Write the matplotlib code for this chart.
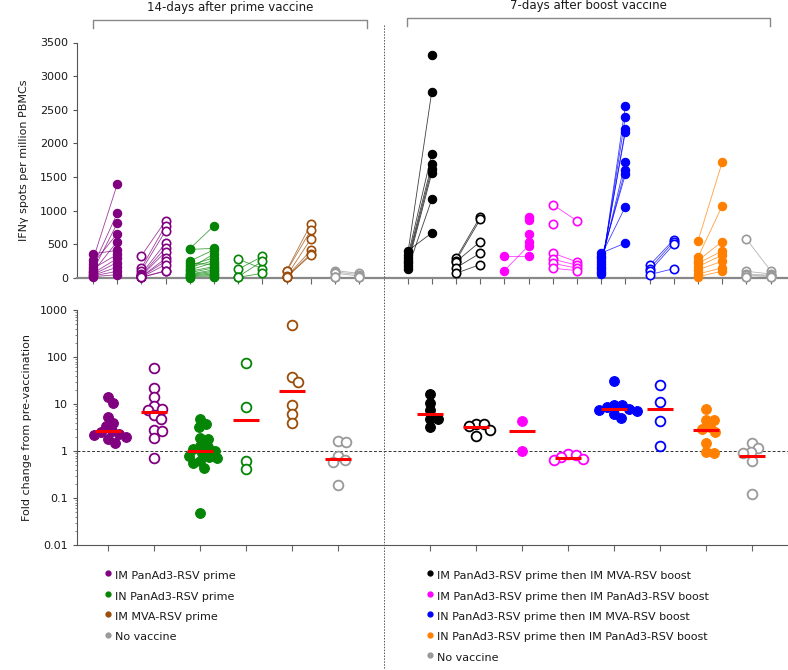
import numpy as np
import matplotlib
matplotlib.use("Agg")
import matplotlib.pyplot as plt
from matplotlib.lines import Line2D

plt.rcParams['font.family'] = ['DejaVu Sans']

nan = np.nan

# ---------------- data: top panel (IFNg spots per million PBMCs) ----------------
im_pan_a_pre = [360, 270, 210, 170, 140, 110, 90, 70, 50, 40, 30, 20]
im_pan_a_post = [410, 1390, 660, 960, 350, 810, 540, 290, 230, 160, 100, 50]
im_pan_b_pre = [330, 150, 110, 60, 40, 30, 20, 20, 10, 10, 10]
im_pan_b_post = [850, 780, 700, 520, 450, 390, 290, 250, 200, 110, 100]
in_pan_a_pre = [435, 425, 250, 220, 190, 160, 140, 120, 100, 80, 60, 50, 40, 30, 20, 10, 5]
in_pan_a_post = [775, 440, 420, 200, 300, 260, 360, 230, 170, 150, 120, 100, 80, 60, 40, 20, 10]
in_pan_b_pre = [280, 130, 20, 10]
in_pan_b_post = [140, 320, 250, 70]
im_mva_pre = [110, 100, 30, 20, 10, 10]
im_mva_post = [800, 710, 580, 410, 360, 340]
novac_l_pre = [110, 90, 70, 20, 10, 10]
novac_l_post = [70, 50, 30, 20, 10, 10]

im_pan_mva_a_pre = [400, 340, 300, 260, 220, 180, 130, nan]
im_pan_mva_a_post = [670, 2770, 1850, 1690, 1620, 1560, 1170, 3320]
im_pan_mva_b_pre = [290, 260, 240, 150, 70]
im_pan_mva_b_post = [910, 870, 540, 370, 200]
im_pan_pan_a_pre = [320, 110, nan, nan, nan, nan]
im_pan_pan_a_post = [320, 480, 910, 860, 660, 530]
im_pan_pan_b_pre = [1090, 800, 370, 280, 220, 145]
im_pan_pan_b_post = [850, nan, 240, 190, 145, 110]
in_pan_mva_a_pre = [60, 90, 130, 170, 210, 250, 290, 330, 370]
in_pan_mva_a_post = [2560, 2400, 2210, 2170, 1730, 1610, 1540, 1060, 520]
in_pan_mva_b_pre = [190, 140, 100, 50]
in_pan_mva_b_post = [570, 540, 500, 140]
in_pan_pan_pre = [550, 310, 260, 220, 170, 120, 60, 20]
in_pan_pan_post = [1720, 1070, 540, 400, 340, 250, 150, 100]
novac_r_pre = [580, 100, 60, 40, 10, 10]
novac_r_post = [110, 60, 40, 30, 20, 10]

# ---------------- data: bottom panel (fold change) ----------------
fc_im_pan_a = [14, 10.5, 5.4, 4.0, 3.4, 2.7, 2.5, 2.3, 2.2, 2.0, 1.8, 1.5]
fc_im_pan_b = [59, 22, 14, 9, 7.8, 7.3, 5.7, 4.9, 2.8, 2.6, 1.9, 0.7]
fc_in_pan_a = [4.8, 3.7, 3.2, 1.9, 1.8, 1.3, 1.2, 1.1, 1.0, 0.9, 0.8, 0.75, 0.7, 0.6, 0.55, 0.43, 0.048]
fc_in_pan_b = [75, 8.6, 0.6, 0.41]
fc_im_mva = [470, 37, 29, 9.4, 6.0, 3.9]
fc_novac_l = [1.6, 1.55, 0.77, 0.63, 0.58, 0.19]
fc_im_pan_mva_a = [16, 10.7, 7.3, 4.9, 4.7, 3.2]
fc_im_pan_mva_b = [3.8, 3.7, 3.4, 2.8, 2.1]
fc_im_pan_pan_a = [4.4, 1.0]
fc_im_pan_pan_b = [0.88, 0.82, 0.75, 0.68, 0.63]
fc_in_pan_mva_a = [31, 9.5, 9.4, 8.5, 8.0, 7.5, 7.0, 6.0, 5.0]
fc_in_pan_mva_b = [25, 11, 4.3, 1.26]
fc_in_pan_pan = [8.0, 4.6, 4.5, 3.3, 3.0, 2.5, 1.5, 0.95, 0.92]
fc_novac_r = [1.45, 1.15, 0.95, 0.9, 0.62, 0.12]
fc_medians = [2.7, 6.7, 1.02, 4.6, 19, 0.67, 6.0, 3.3, 2.6, 0.72, 8.0, 7.7, 2.85, 0.78]

header_labels = ["14-days after prime vaccine", "7-days after boost vaccine"]
left_legend = ["IM PanAd3-RSV prime", "IN PanAd3-RSV prime", "IM MVA-RSV prime", "No vaccine"]
right_legend = ["IM PanAd3-RSV prime then IM MVA-RSV boost",
                "IM PanAd3-RSV prime then IM PanAd3-RSV boost",
                "IN PanAd3-RSV prime then IM MVA-RSV boost",
                "IN PanAd3-RSV prime then IM PanAd3-RSV boost",
                "No vaccine"]

# colours
PURPLE = '#800080'
GREEN = '#058505'
BROWN = '#9a4d0c'
GRAY = '#9a9a9a'
BLACK = '#000000'
MAGENTA = '#ff00ff'
BLUE = '#0000ff'
ORANGE = '#ff8000'
left_legend_colors = [PURPLE, GREEN, BROWN, GRAY]
right_legend_colors = [BLACK, MAGENTA, BLUE, ORANGE, GRAY]

# (pre, post, colour, filled)
top_groups = [
    (im_pan_a_pre, im_pan_a_post, PURPLE, True),
    (im_pan_b_pre, im_pan_b_post, PURPLE, False),
    (in_pan_a_pre, in_pan_a_post, GREEN, True),
    (in_pan_b_pre, in_pan_b_post, GREEN, False),
    (im_mva_pre, im_mva_post, BROWN, False),
    (novac_l_pre, novac_l_post, GRAY, False),
    (im_pan_mva_a_pre, im_pan_mva_a_post, BLACK, True),
    (im_pan_mva_b_pre, im_pan_mva_b_post, BLACK, False),
    (im_pan_pan_a_pre, im_pan_pan_a_post, MAGENTA, True),
    (im_pan_pan_b_pre, im_pan_pan_b_post, MAGENTA, False),
    (in_pan_mva_a_pre, in_pan_mva_a_post, BLUE, True),
    (in_pan_mva_b_pre, in_pan_mva_b_post, BLUE, False),
    (in_pan_pan_pre, in_pan_pan_post, ORANGE, True),
    (novac_r_pre, novac_r_post, GRAY, False),
]
bottom_groups = [
    (fc_im_pan_a, PURPLE, True), (fc_im_pan_b, PURPLE, False),
    (fc_in_pan_a, GREEN, True), (fc_in_pan_b, GREEN, False),
    (fc_im_mva, BROWN, False), (fc_novac_l, GRAY, False),
    (fc_im_pan_mva_a, BLACK, True), (fc_im_pan_mva_b, BLACK, False),
    (fc_im_pan_pan_a, MAGENTA, True), (fc_im_pan_pan_b, MAGENTA, False),
    (fc_in_pan_mva_a, BLUE, True), (fc_in_pan_mva_b, BLUE, False),
    (fc_in_pan_pan, ORANGE, True), (fc_novac_r, GRAY, False),
]

# ---------------- figure ----------------
W, H = 788, 670
fig = plt.figure(figsize=(W / 100, H / 100), dpi=100)


def fx(px):
    return px / W


def fy(py):
    return 1 - py / H


SPINE = '#555555'
TXT = '#1a1a1a'

# ---- top axes ----
ax1 = fig.add_axes([fx(77), fy(278), fx(788) - fx(77), fy(42.5) - fy(278)])
ax1.set_xlim(-0.66, 28.72)
ax1.set_ylim(0, 3500)
for s in ['top', 'right']:
    ax1.spines[s].set_visible(False)
ax1.spines['left'].set_color(SPINE)
ax1.spines['bottom'].set_color('#888888')
ax1.spines['bottom'].set_linewidth(1.6)
ax1.set_yticks(np.arange(0, 3501, 500))
ax1.tick_params(axis='y', labelsize=8, colors=SPINE, labelcolor=TXT, length=3, width=0.8)
top_ticks = list(range(0, 12)) + list(range(13, 29))
ax1.set_xticks(top_ticks)
ax1.set_xticklabels([])
ax1.tick_params(axis='x', length=4, width=0.8, colors='#666666')
ax1.set_ylabel("IFNγ spots per million PBMCs", fontsize=8, color=TXT, labelpad=8)

top_positions = [(0, 1), (2, 3), (4, 5), (6, 7), (8, 9), (10, 11),
                 (13, 14), (15, 16), (17, 18), (19, 20), (21, 22), (23, 24), (25, 26), (27, 28)]
for (pre, post, col, filled), (xa, xb) in zip(top_groups, top_positions):
    pre = np.asarray(pre, float)
    post = np.asarray(post, float)
    for a, b in zip(pre, post):
        if np.isfinite(a) and np.isfinite(b):
            ax1.plot([xa, xb], [a, b], color=col, lw=0.6, alpha=0.75, zorder=2, clip_on=False)
    kw = dict(marker='o', ms=6.0, ls='none', mec=col, mew=1.2 if not filled else 0.8,
              mfc=col if filled else 'white', zorder=3, clip_on=False)
    ax1.plot(np.full(np.isfinite(pre).sum(), xa), pre[np.isfinite(pre)], **kw)
    ax1.plot(np.full(np.isfinite(post).sum(), xb), post[np.isfinite(post)], **kw)

# ---- bottom axes ----
ax2 = fig.add_axes([fx(77), fy(545), fx(788) - fx(77), fy(310) - fy(545)])
ax2.set_yscale('log')
ax2.set_xlim(-0.674, 14.78)
ax2.set_ylim(0.01, 1000)
for s in ['top', 'right']:
    ax2.spines[s].set_visible(False)
ax2.spines['left'].set_color(SPINE)
ax2.spines['bottom'].set_color(SPINE)
ax2.set_yticks([0.01, 0.1, 1, 10, 100, 1000])
ax2.set_yticklabels(['0.01', '0.1', '1', '10', '100', '1000'])
ax2.tick_params(axis='y', which='major', labelsize=8, colors=SPINE, labelcolor=TXT, length=3, width=0.8)
ax2.tick_params(axis='y', which='minor', length=1.5, width=0.5, colors=SPINE)
bot_ticks = list(range(0, 6)) + list(range(7, 15))
ax2.set_xticks(bot_ticks)
ax2.set_xticklabels([])
ax2.tick_params(axis='x', length=4, width=0.8, colors='#666666')
ax2.set_ylabel("Fold change from pre-vaccination", fontsize=8, color=TXT, labelpad=6)
ax2.axhline(1, color='#333333', lw=0.7, ls=(0, (3, 2)), zorder=1)

# beeswarm offsets (layout only)
diam_px = 7.6


def swarm(vals, center):
    pts = ax2.transData.transform(np.column_stack([np.full(len(vals), center), vals]))
    ys = pts[:, 1]
    order = np.argsort(-ys)
    placed = []
    offs = np.zeros(len(vals))
    for i in order:
        y = ys[i]
        found = None
        step = 0
        while found is None:
            cands = [0.0] if step == 0 else [step * 0.5, -step * 0.5]
            for c in cands:
                if all((c - px) ** 2 + (y - py) ** 2 >= diam_px ** 2 for px, py in placed):
                    found = c
                    break
            step += 1
        offs[i] = found
        placed.append((found, y))
    px_per_unit = ax2.transData.transform((1, 1))[0] - ax2.transData.transform((0, 1))[0]
    return center + offs / px_per_unit


bot_positions = [0, 1, 2, 3, 4, 5, 7, 8, 9, 10, 11, 12, 13, 14]
for (vals, col, filled), xc, med in zip(bottom_groups, bot_positions, fc_medians):
    vals = np.asarray(vals, float)
    xs = swarm(vals, xc)
    ax2.plot(xs, vals, marker='o', ms=7.0, ls='none', mec=col, mew=1.3 if not filled else 0.8,
             mfc=col if filled else 'white', zorder=3, clip_on=False)
    ax2.plot([xc - 0.29, xc + 0.29], [med, med], color='#ff0000', lw=2.2, zorder=4,
             solid_capstyle='butt')

# ---- divider, brackets, headers ----
fig.add_artist(Line2D([fx(384), fx(384)], [fy(25), fy(670)], color='#555555', lw=0.7,
                      ls=(0, (1.5, 1.5))))
for (x0, x1, yb), lab in zip([(93, 367, 20), (407, 770, 18)], header_labels):
    fig.add_artist(Line2D([fx(x0), fx(x0), fx(x1), fx(x1)], [fy(yb + 8), fy(yb), fy(yb), fy(yb + 8)],
                          color='#888888', lw=1.0))
    fig.text(fx((x0 + x1) / 2), fy(yb - 12), lab, ha='center', va='center', fontsize=8.5, color=TXT)

# ---- legends ----
for i, (lab, col) in enumerate(zip(left_legend, left_legend_colors)):
    yy = 576 + i * 20.5
    fig.add_artist(Line2D([fx(108)], [fy(yy - 3)], marker='o', ms=3.5, color=col, ls='none'))
    fig.text(fx(115), fy(yy), lab, ha='left', va='center', fontsize=8, color=TXT)
for i, (lab, col) in enumerate(zip(right_legend, right_legend_colors)):
    yy = 576 + i * 20.5
    fig.add_artist(Line2D([fx(430)], [fy(yy - 3)], marker='o', ms=3.5, color=col, ls='none'))
    fig.text(fx(437), fy(yy), lab, ha='left', va='center', fontsize=8, color=TXT)

fig.savefig("out.png", dpi=100)
